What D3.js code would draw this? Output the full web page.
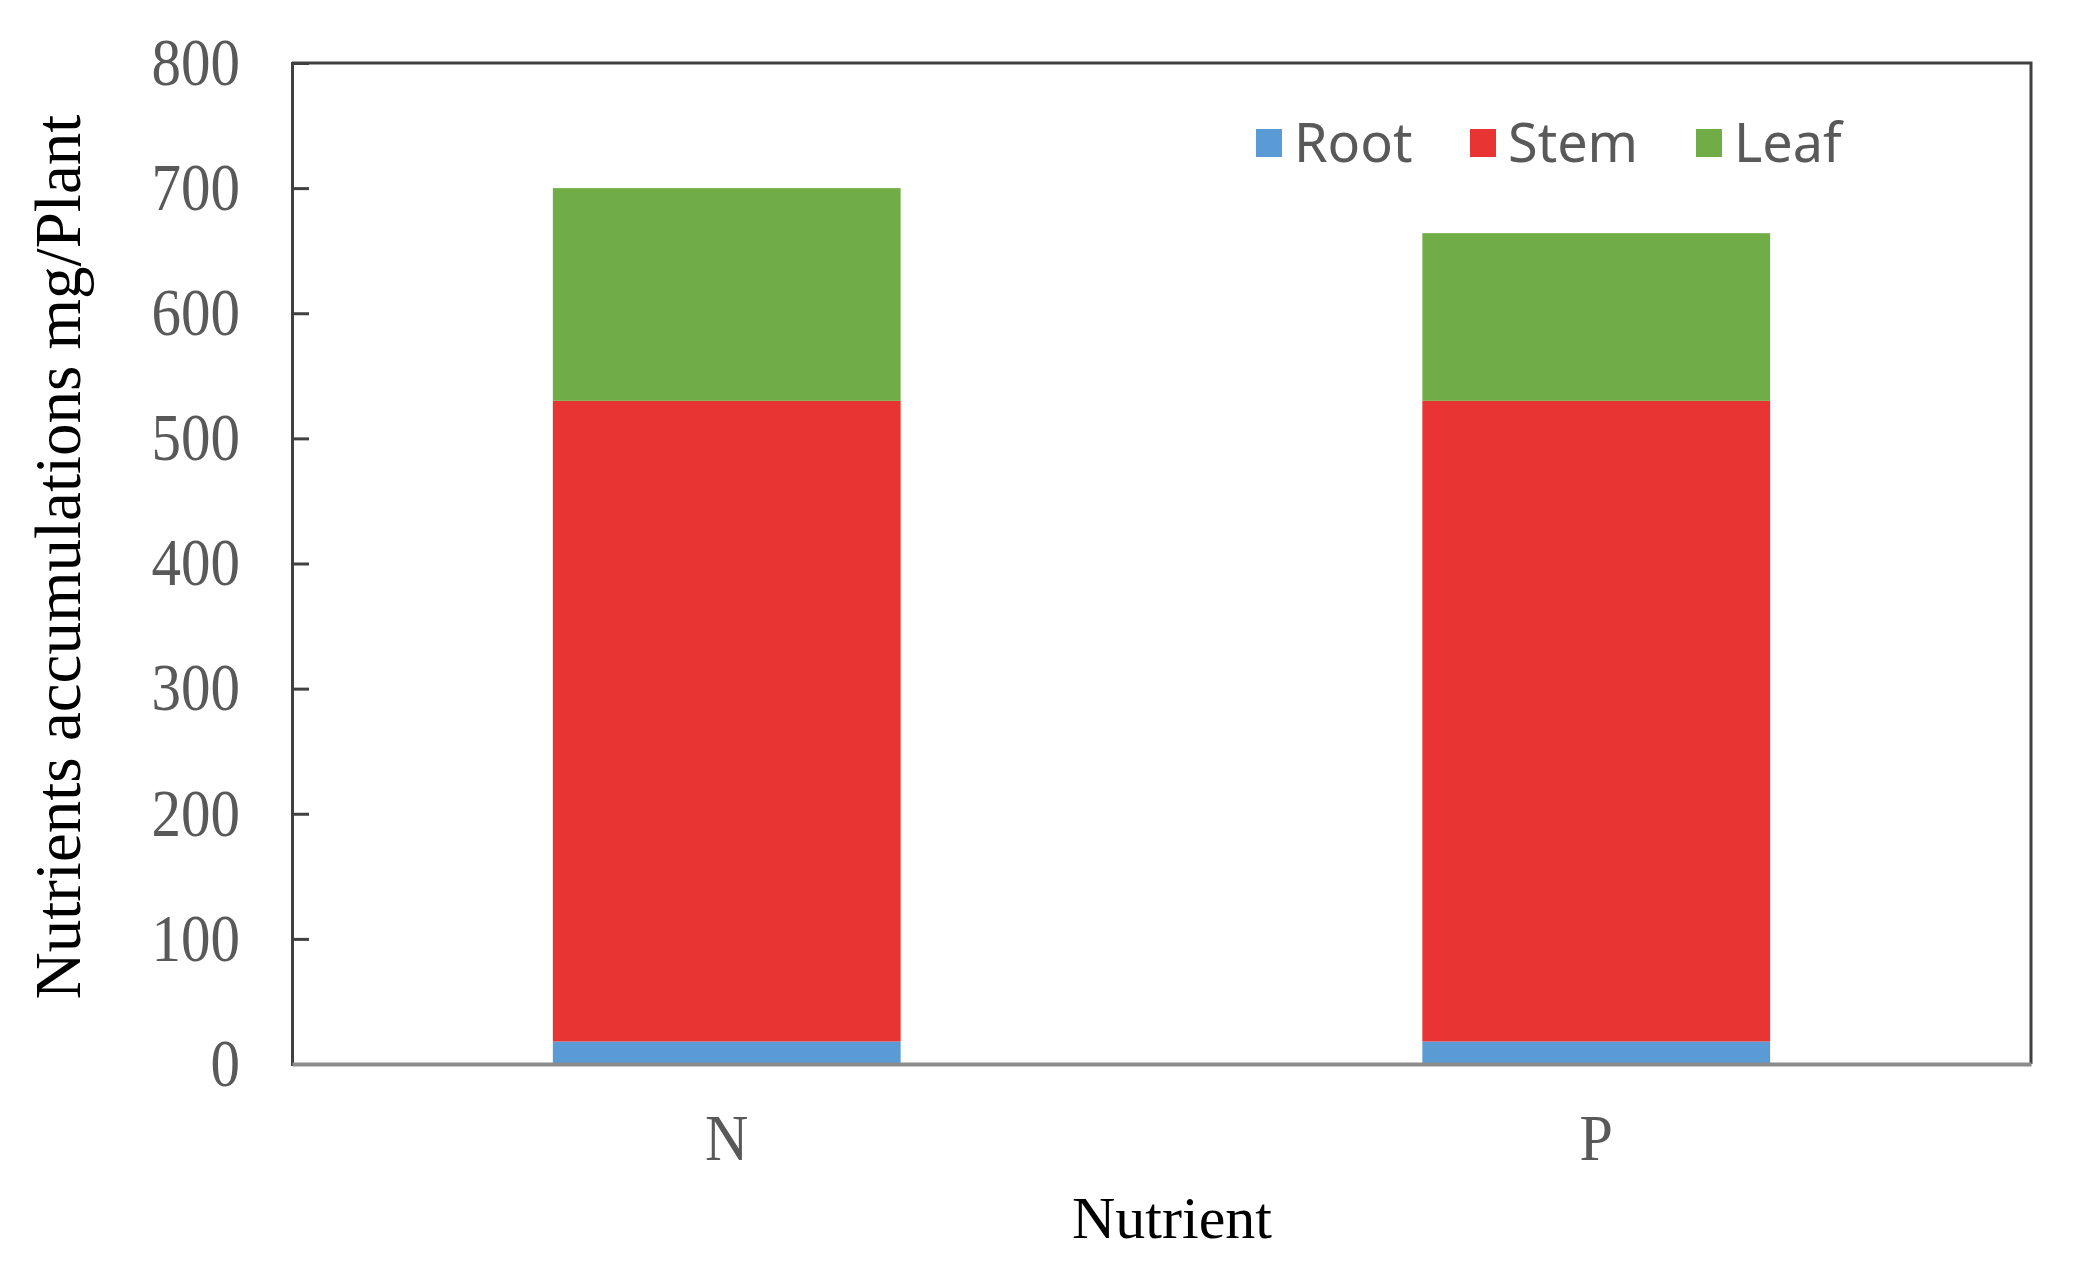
<!DOCTYPE html>
<html>
<head>
<meta charset="utf-8">
<script src="https://cdn.jsdelivr.net/npm/d3@7"></script>
<style>
  html, body { margin: 0; padding: 0; background: #fff; }
  svg { display: block; }
</style>
</head>
<body>
<svg id="chart" width="2088" height="1271"></svg>
<script>
// ---- data ----
const categories = ["N", "P"];
const seriesNames = ["Root", "Stem", "Leaf"];
const rootValues = [18, 18];
const stemValues = [512, 512];
const leafValues = [170, 134];
const yTicks = [0, 100, 200, 300, 400, 500, 600, 700, 800];
const seriesColors = ["#5B9BD5", "#E93434", "#70AD47"];

// ---- layout ----
const W = 2088, H = 1271;
const m = { left: 292, right: 2031, top: 63, bottom: 1064 };

const svg = d3.select("#chart");

const rows = categories.map((c, i) => ({
  cat: c, Root: rootValues[i], Stem: stemValues[i], Leaf: leafValues[i]
}));
const stacked = d3.stack().keys(seriesNames)(rows);

const x = d3.scaleBand()
  .domain(categories)
  .range([m.left, m.right])
  .paddingInner(0.6)
  .paddingOuter(0.3);

const y = d3.scaleLinear()
  .domain([0, 800])
  .range([m.bottom, m.top]);

const color = d3.scaleOrdinal().domain(seriesNames).range(seriesColors);

// bars
svg.append("g").selectAll("g")
  .data(stacked)
  .join("g")
  .attr("fill", d => color(d.key))
  .selectAll("rect")
  .data(d => d)
  .join("rect")
  .attr("x", d => x(d.data.cat))
  .attr("width", x.bandwidth())
  .attr("y", d => y(d[1]))
  .attr("height", d => y(d[0]) - y(d[1]));

// frame: top and right border
svg.append("path")
  .attr("d", `M${m.left},${m.top}H${m.right}V${m.bottom}`)
  .attr("fill", "none")
  .attr("stroke", "#404040")
  .attr("stroke-width", 3);

// y axis
const yAxis = d3.axisLeft(y).tickValues(yTicks).tickSize(-17).tickPadding(52);
const gy = svg.append("g")
  .attr("transform", `translate(${m.left},0)`)
  .call(yAxis);
gy.select(".domain").attr("stroke", "#404040").attr("stroke-width", 3);
gy.selectAll(".tick line").attr("stroke", "#404040").attr("stroke-width", 3);
gy.selectAll(".tick text")
  .attr("fill", "#595959")
  .attr("transform", "scale(1,1.13)")
  .style("font-family", "'Liberation Serif', 'Times New Roman', serif")
  .style("font-size", "59px");

// x axis
const xAxis = d3.axisBottom(x).tickSize(0).tickPadding(45);
const gx = svg.append("g")
  .attr("transform", `translate(0,${m.bottom})`)
  .call(xAxis);
gx.select(".domain").attr("stroke", "#8c8c8c").attr("stroke-width", 4);
gx.selectAll(".tick text")
  .attr("fill", "#595959")
  .attr("transform", "scale(1,1.1)")
  .style("font-family", "'Liberation Serif', 'Times New Roman', serif")
  .style("font-size", "60px");

// axis titles
svg.append("text")
  .attr("x", 1172)
  .attr("y", 1238)
  .attr("text-anchor", "middle")
  .attr("fill", "#000")
  .style("font-family", "'Liberation Serif', 'Times New Roman', serif")
  .style("font-size", "60px")
  .text("Nutrient");

svg.append("text")
  .attr("transform", "translate(80,557) rotate(-90)")
  .attr("text-anchor", "middle")
  .attr("fill", "#000")
  .style("font-family", "'Liberation Serif', 'Times New Roman', serif")
  .style("font-size", "65px")
  .text("Nutrients accumulations mg/Plant");

// legend
const legendX = [1256, 1470, 1696];
const legend = svg.append("g").selectAll("g")
  .data(seriesNames)
  .join("g")
  .attr("transform", (d, i) => `translate(${legendX[i]},0)`);
legend.append("rect")
  .attr("x", 0).attr("y", 129)
  .attr("width", 26).attr("height", 28)
  .attr("fill", d => color(d));
legend.append("text")
  .attr("x", 38).attr("y", 162)
  .attr("fill", "#595959")
  .style("font-family", "'Noto Sans', sans-serif")
  .style("font-size", "54px")
  .text(d => d);
</script>
</body>
</html>
